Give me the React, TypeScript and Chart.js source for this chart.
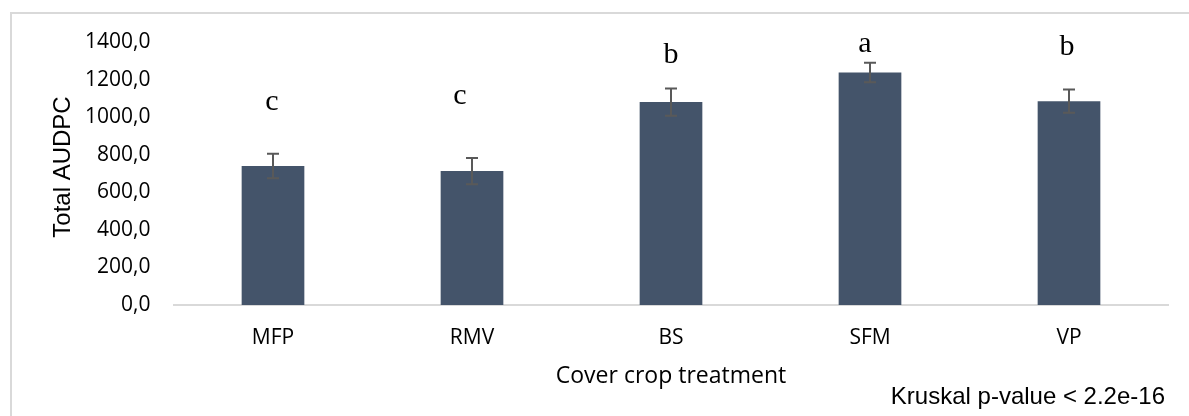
import { useEffect, useRef } from "react";
import { Chart, registerables } from "chart.js";

Chart.register(...registerables);

// Cover crop treatments and their mean total AUDPC with error (±)
const treatments = ["MFP", "RMV", "BS", "SFM", "VP"];
const meanAudpc = [740, 713, 1080, 1238, 1085];
const errAudpc = [65, 70, 72, 52, 62];
const groupLetters = ["c", "c", "b", "a", "b"];
const yTickValues = [0, 200, 400, 600, 800, 1000, 1200, 1400];
const yAxisTitle = "Total AUDPC";
const xAxisTitle = "Cover crop treatment";
const testNote = "Kruskal p-value < 2.2e-16";

// Baseline of each significance letter (data units) and a small horizontal nudge (px)
const letterPlacement = [
  { y: 1038, dx: -1 },
  { y: 1070, dx: -12 },
  { y: 1288, dx: 0 },
  { y: 1347, dx: -5 },
  { y: 1331, dx: -2 },
];

const BAR_COLOR = "#44546a";
const ERR_COLOR = "#595959";
const FRAME_COLOR = "#d9d9d9";
const SANS = "'Open Sans', sans-serif";

const W = 1189;
const H = 416;
const AREA = { left: 173.5, right: 1168.5, top: 42, bottom: 305 };

const annotations = {
  id: "annotations",
  beforeDraw(chart: any) {
    const { ctx } = chart;
    ctx.save();
    ctx.fillStyle = "#ffffff";
    ctx.fillRect(0, 0, W, H);
    ctx.strokeStyle = FRAME_COLOR;
    ctx.lineWidth = 2;
    ctx.beginPath();
    ctx.moveTo(11, H);
    ctx.lineTo(11, 13);
    ctx.lineTo(W, 13);
    ctx.stroke();
    ctx.restore();
  },
  afterDatasetsDraw(chart: any) {
    const { ctx } = chart;
    const x = chart.scales.x;
    const y = chart.scales.y;
    ctx.save();
    // error bars
    ctx.strokeStyle = ERR_COLOR;
    ctx.lineWidth = 2;
    meanAudpc.forEach((v, i) => {
      const px = x.getPixelForValue(i);
      const top = y.getPixelForValue(v + errAudpc[i]);
      const bot = y.getPixelForValue(v - errAudpc[i]);
      ctx.beginPath();
      ctx.moveTo(px, top);
      ctx.lineTo(px, bot);
      ctx.moveTo(px - 6, top);
      ctx.lineTo(px + 6, top);
      ctx.moveTo(px - 6, bot);
      ctx.lineTo(px + 6, bot);
      ctx.stroke();
    });
    // significance letters
    ctx.fillStyle = "#000000";
    ctx.font = "30px 'Liberation Serif', 'Times New Roman', serif";
    ctx.textAlign = "center";
    ctx.textBaseline = "alphabetic";
    groupLetters.forEach((t, i) => {
      const p = letterPlacement[i];
      ctx.fillText(t, x.getPixelForValue(i) + p.dx, y.getPixelForValue(p.y));
    });
    ctx.restore();
  },
  afterDraw(chart: any) {
    const { ctx } = chart;
    ctx.save();
    ctx.fillStyle = "#000000";
    // y axis title
    ctx.font = "24px 'Liberation Sans', Arial, sans-serif";
    ctx.textAlign = "center";
    ctx.textBaseline = "middle";
    ctx.translate(63, 167);
    ctx.rotate(-Math.PI / 2);
    ctx.fillText(yAxisTitle, 0, 0);
    ctx.setTransform(1, 0, 0, 1, 0, 0);
    // test note
    ctx.font = "24px 'Liberation Sans', Arial, sans-serif";
    ctx.textAlign = "right";
    ctx.textBaseline = "alphabetic";
    ctx.fillText(testNote, 1165, 404);
    ctx.restore();
  },
};

export default function App() {
  const ref = useRef<HTMLCanvasElement | null>(null);

  useEffect(() => {
    if (!ref.current) return;
    const chart = new Chart(ref.current, {
      type: "bar",
      data: {
        labels: treatments,
        datasets: [
          {
            data: meanAudpc,
            backgroundColor: BAR_COLOR,
            borderWidth: 0,
            categoryPercentage: 1,
            barPercentage: 0.315,
          },
        ],
      },
      options: {
        animation: false,
        responsive: false,
        devicePixelRatio: 1,
        layout: {
          padding: { left: 0, right: W - AREA.right, top: AREA.top, bottom: 0 },
        },
        plugins: {
          legend: { display: false },
          tooltip: { enabled: false },
          title: { display: false },
        },
        scales: {
          x: {
            grid: { display: false, drawTicks: false },
            border: { display: true, color: FRAME_COLOR, width: 2 },
            ticks: {
              color: "#000000",
              font: { family: SANS, size: 21 },
              padding: 20,
            },
            title: {
              display: true,
              text: xAxisTitle,
              color: "#000000",
              font: { family: SANS, size: 23 },
              padding: { top: 0, bottom: 26 },
            },
            afterFit(scale: any) {
              scale.height = H - AREA.bottom;
            },
          },
          y: {
            min: 0,
            max: 1400,
            grid: { display: false, drawTicks: false },
            border: { display: false },
            afterBuildTicks(scale: any) {
              scale.ticks = yTickValues.map((v) => ({ value: v }));
            },
            ticks: {
              color: "#000000",
              font: { family: SANS, size: 21 },
              padding: 23,
              callback: (v: any) => Number(v).toFixed(1).replace(".", ","),
            },
            afterFit(scale: any) {
              scale.width = AREA.left;
            },
          },
        },
      },
      plugins: [annotations],
    });
    return () => chart.destroy();
  }, []);

  return (
    <div style={{ position: "absolute", left: 0, top: 0, width: W, height: H }}>
      <canvas ref={ref} width={W} height={H} style={{ display: "block" }} />
    </div>
  );
}
